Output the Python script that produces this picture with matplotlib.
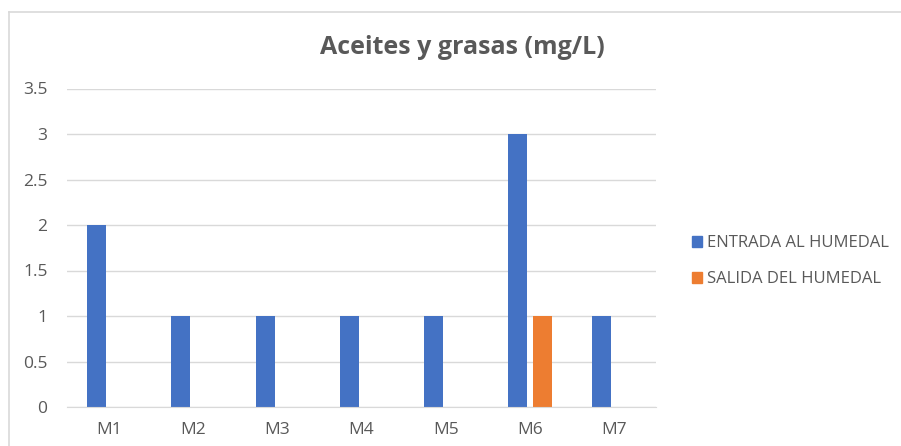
import numpy as np
import matplotlib.pyplot as plt
from matplotlib.lines import Line2D
from matplotlib.patches import Patch

# datos del gráfico
muestras = ['M1', 'M2', 'M3', 'M4', 'M5', 'M6', 'M7']
entrada = [2, 1, 1, 1, 1, 3, 1]
salida = [0, 0, 0, 0, 0, 1, 0]
series = ['ENTRADA AL HUMEDAL', 'SALIDA DEL HUMEDAL']
yticks = [0, 0.5, 1, 1.5, 2, 2.5, 3, 3.5]

azul = '#4472C4'
naranja = '#ED7D31'
gris = '#595959'

plt.rcParams['font.family'] = ['Open Sans', 'DejaVu Sans']

fig = plt.figure(figsize=(9.01, 4.46), dpi=100)
W, H = 901, 446
ax = fig.add_axes([67 / W, 1 - 407 / H, (656 - 67) / W, (407 - 88.5) / H])

x = np.arange(len(muestras))
ancho = 0.226
ax.bar(x - 0.146, entrada, ancho, color=azul, zorder=3)
ax.bar(x + 0.146, salida, ancho, color=naranja, zorder=3)

ax.set_xlim(-0.5, len(muestras) - 0.5)
ax.set_ylim(0, 3.5)
ax.set_yticks(yticks)
ax.set_yticklabels([f'{v:g}' for v in yticks])
ax.set_xticks(x)
ax.set_xticklabels(muestras)
ax.tick_params(length=0, colors=gris, labelsize=12.5)
ax.tick_params(axis='y', pad=14)
ax.tick_params(axis='x', pad=11)
ax.yaxis.grid(True, color='#D9D9D9', linewidth=1, zorder=0)
for s in ['top', 'right', 'left']:
    ax.spines[s].set_visible(False)
ax.spines['bottom'].set_color('#D9D9D9')
ax.spines['bottom'].set_zorder(4)

fig.text(462 / W, 1 - 47 / H, 'Aceites y grasas (mg/L)', ha='center', va='center',
         fontsize=18, fontweight='bold', color=gris)

handles = [Patch(color=azul), Patch(color=naranja)]
fig.legend(handles, series, loc='center left', bbox_to_anchor=(677 / W, 1 - 261 / H),
           frameon=False, fontsize=12, labelcolor=gris, handlelength=0.62,
           handleheight=0.62, handletextpad=0.3, labelspacing=1.2)

# borde del área del gráfico
fig.add_artist(Line2D([9 / W, 1], [1 - 12 / H, 1 - 12 / H], color='#D9D9D9', lw=1.2))
fig.add_artist(Line2D([9 / W, 9 / W], [0, 1 - 12 / H], color='#D9D9D9', lw=1.2))

fig.savefig('out.png', dpi=100)
